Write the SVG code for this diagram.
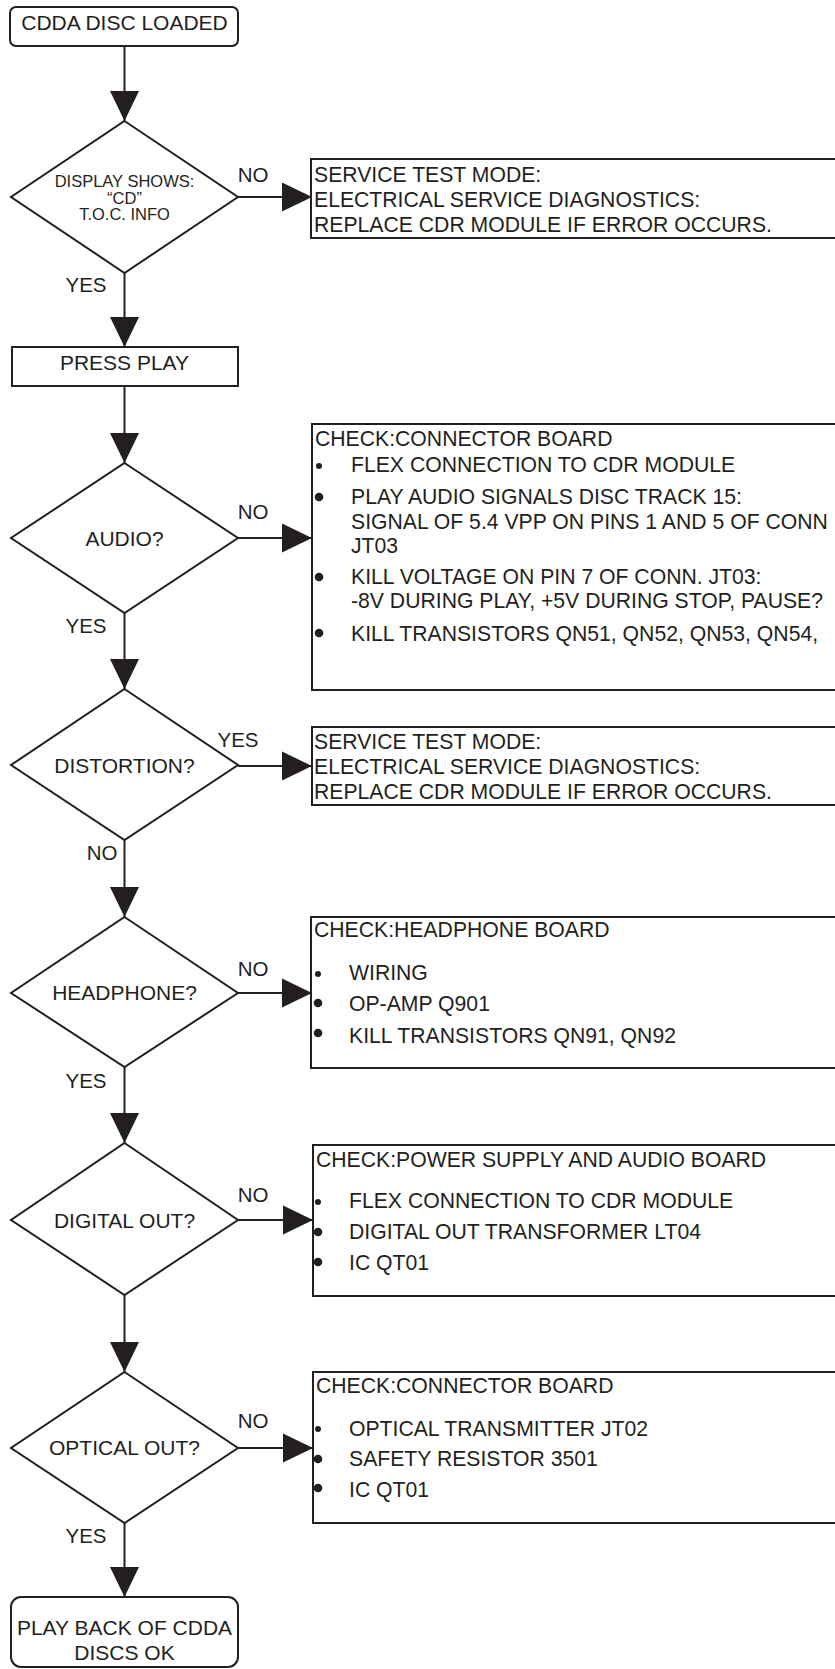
<svg xmlns="http://www.w3.org/2000/svg" width="835" height="1669" viewBox="0 0 835 1669">
<defs>
<marker id="ah" markerUnits="userSpaceOnUse" markerWidth="30" markerHeight="30" refX="30" refY="14.5" orient="auto" viewBox="0 0 30 29">
<path d="M0,0 L30,14.5 L0,29 z" fill="#231f20"/>
</marker>
</defs>
<style>
.shape{fill:#fff;stroke:#231f20;stroke-width:2}
.conn{fill:none;stroke:#231f20;stroke-width:2;marker-end:url(#ah)}
text{font-family:"Liberation Sans",Arial,sans-serif;fill:#231f20}
.t{font-size:21.2px}
.c{font-size:21px;text-anchor:middle}
.s{font-size:16.5px;text-anchor:middle}
.lbl{font-size:20.5px;text-anchor:middle}
.b{fill:#231f20}
</style>
<rect width="835" height="1669" fill="#fff"/>
<g id="connectors">
<line class="conn" x1="124.5" y1="46" x2="124.5" y2="121"/>
<line class="conn" x1="124.5" y1="273" x2="124.5" y2="347"/>
<line class="conn" x1="124.5" y1="386" x2="124.5" y2="463"/>
<line class="conn" x1="124.5" y1="613" x2="124.5" y2="689"/>
<line class="conn" x1="124.5" y1="840" x2="124.5" y2="917"/>
<line class="conn" x1="124.5" y1="1067" x2="124.5" y2="1143"/>
<line class="conn" x1="124.5" y1="1295" x2="124.5" y2="1372"/>
<line class="conn" x1="124.5" y1="1523" x2="124.5" y2="1597"/>
<line class="conn" x1="238" y1="197" x2="312" y2="197"/>
<line class="conn" x1="238" y1="538" x2="312" y2="538"/>
<line class="conn" x1="238" y1="766" x2="312" y2="766"/>
<line class="conn" x1="238" y1="993" x2="312" y2="993"/>
<line class="conn" x1="238" y1="1220" x2="313" y2="1220"/>
<line class="conn" x1="238" y1="1448" x2="313" y2="1448"/>
<text class="lbl" x="253" y="182">NO</text>
<text class="lbl" x="86" y="292">YES</text>
<text class="lbl" x="253" y="519">NO</text>
<text class="lbl" x="86" y="633">YES</text>
<text class="lbl" x="238" y="747">YES</text>
<text class="lbl" x="102" y="860">NO</text>
<text class="lbl" x="253" y="976">NO</text>
<text class="lbl" x="86" y="1088">YES</text>
<text class="lbl" x="253" y="1202">NO</text>
<text class="lbl" x="253" y="1428">NO</text>
<text class="lbl" x="86" y="1543">YES</text>
</g>
<g id="start">
<rect class="shape" x="10" y="7" width="228" height="39" rx="6"/>
<text class="c" x="124.5" y="30">CDDA DISC LOADED</text>
</g>
<g id="d-display">
<polygon class="shape" points="124.5,121 238,197 124.5,273 11,197"/>
<text class="s" x="124.5" y="187">DISPLAY SHOWS:</text>
<text class="s" x="124.5" y="203.5">“CD”</text>
<text class="s" x="124.5" y="220">T.O.C. INFO</text>
</g>
<g id="box-service1">
<rect class="shape" x="311" y="159" width="600" height="79"/>
<text class="t" x="314" y="181.5">SERVICE TEST MODE:</text>
<text class="t" x="314" y="206.5">ELECTRICAL SERVICE DIAGNOSTICS:</text>
<text class="t" x="314" y="232">REPLACE CDR MODULE IF ERROR OCCURS.</text>
</g>
<g id="press-play">
<rect class="shape" x="12" y="347" width="226" height="39"/>
<text class="c" x="124.5" y="370">PRESS PLAY</text>
</g>
<g id="d-audio">
<polygon class="shape" points="124.5,463 238,538 124.5,613 11,538"/>
<text class="c" x="124.5" y="546">AUDIO?</text>
</g>
<g id="box-connector1">
<rect class="shape" x="312" y="424" width="600" height="266"/>
<text class="t" x="315" y="446">CHECK:CONNECTOR BOARD</text>
<circle class="b" cx="319" cy="466" r="3"/>
<text class="t" x="351" y="472">FLEX CONNECTION TO CDR MODULE</text>
<circle class="b" cx="319" cy="497" r="4.3"/>
<text class="t" x="351" y="504">PLAY AUDIO SIGNALS DISC TRACK 15:</text>
<text class="t" x="351" y="528.5">SIGNAL OF 5.4 VPP ON PINS 1 AND 5 OF CONN</text>
<text class="t" x="351" y="553">JT03</text>
<circle class="b" cx="319" cy="577" r="4.3"/>
<text class="t" x="351" y="584">KILL VOLTAGE ON PIN 7 OF CONN. JT03:</text>
<text class="t" x="351" y="608">-8V DURING PLAY, +5V DURING STOP, PAUSE?</text>
<circle class="b" cx="319" cy="633" r="4.3"/>
<text class="t" x="351" y="641">KILL TRANSISTORS QN51, QN52, QN53, QN54,</text>
</g>
<g id="d-distortion">
<polygon class="shape" points="124.5,689 238,765 124.5,840 11,765"/>
<text class="c" x="124.5" y="773">DISTORTION?</text>
</g>
<g id="box-service2">
<rect class="shape" x="312" y="727" width="600" height="78"/>
<text class="t" x="314" y="749">SERVICE TEST MODE:</text>
<text class="t" x="314" y="774">ELECTRICAL SERVICE DIAGNOSTICS:</text>
<text class="t" x="314" y="799">REPLACE CDR MODULE IF ERROR OCCURS.</text>
</g>
<g id="d-headphone">
<polygon class="shape" points="124.5,917 238,993 124.5,1067 11,993"/>
<text class="c" x="124.5" y="1000">HEADPHONE?</text>
</g>
<g id="box-headphone">
<rect class="shape" x="311" y="917" width="600" height="151"/>
<text class="t" x="314" y="937">CHECK:HEADPHONE BOARD</text>
<circle class="b" cx="318" cy="974" r="3"/>
<text class="t" x="349" y="980">WIRING</text>
<circle class="b" cx="318" cy="1003" r="4.3"/>
<text class="t" x="349" y="1011">OP-AMP Q901</text>
<circle class="b" cx="318" cy="1033" r="4.3"/>
<text class="t" x="349" y="1043">KILL TRANSISTORS QN91, QN92</text>
</g>
<g id="d-digital">
<polygon class="shape" points="124.5,1143 238,1220 124.5,1295 11,1220"/>
<text class="c" x="124.5" y="1228">DIGITAL OUT?</text>
</g>
<g id="box-power">
<rect class="shape" x="313" y="1145" width="600" height="151"/>
<text class="t" x="316" y="1167">CHECK:POWER SUPPLY AND AUDIO BOARD</text>
<circle class="b" cx="318" cy="1202" r="3"/>
<text class="t" x="349" y="1208">FLEX CONNECTION TO CDR MODULE</text>
<circle class="b" cx="318" cy="1232" r="4.3"/>
<text class="t" x="349" y="1239">DIGITAL OUT TRANSFORMER LT04</text>
<circle class="b" cx="318" cy="1262" r="4.3"/>
<text class="t" x="349" y="1270">IC QT01</text>
</g>
<g id="d-optical">
<polygon class="shape" points="124.5,1372 238,1448 124.5,1523 11,1448"/>
<text class="c" x="124.5" y="1455">OPTICAL OUT?</text>
</g>
<g id="box-connector2">
<rect class="shape" x="313" y="1372" width="600" height="151"/>
<text class="t" x="316" y="1393">CHECK:CONNECTOR BOARD</text>
<circle class="b" cx="318" cy="1429" r="3"/>
<text class="t" x="349" y="1436">OPTICAL TRANSMITTER JT02</text>
<circle class="b" cx="318" cy="1459" r="4.3"/>
<text class="t" x="349" y="1466">SAFETY RESISTOR 3501</text>
<circle class="b" cx="318" cy="1488" r="4.3"/>
<text class="t" x="349" y="1497">IC QT01</text>
</g>
<g id="end">
<rect class="shape" x="11" y="1597" width="227" height="70" rx="10"/>
<text class="c" x="124.5" y="1635">PLAY BACK OF CDDA</text>
<text class="c" x="124.5" y="1660">DISCS OK</text>
</g>
</svg>
